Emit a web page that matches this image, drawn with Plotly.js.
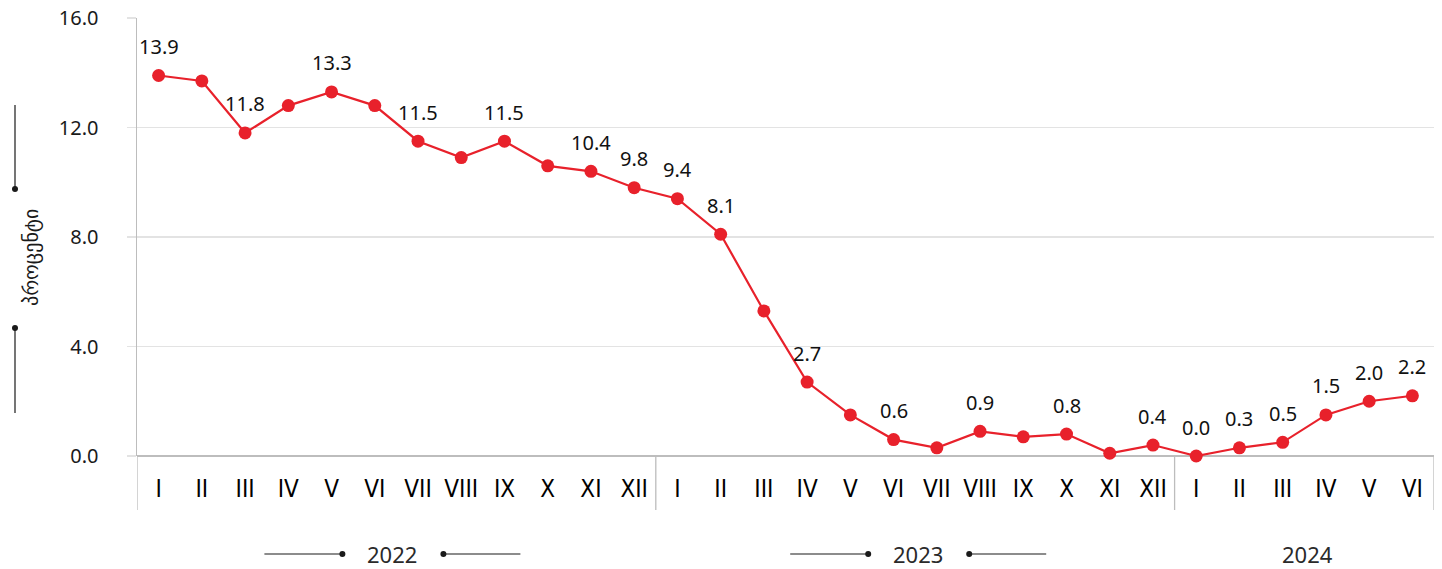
<!DOCTYPE html>
<html>
<head>
<meta charset="utf-8">
<script src="https://cdn.plot.ly/plotly-3.0.1.min.js"></script>
<style>html,body{margin:0;padding:0;background:#fff;}#chart{width:1442px;height:569px;}</style>
</head>
<body>
<div id="chart"></div>
<script>
const months = ["I","II","III","IV","V","VI","VII","VIII","IX","X","XI","XII",
                "I","II","III","IV","V","VI","VII","VIII","IX","X","XI","XII",
                "I","II","III","IV","V","VI"];
const values = [13.9,13.7,11.8,12.8,13.3,12.8,11.5,10.9,11.5,10.6,10.4,9.8,
                9.4,8.1,5.3,2.7,1.5,0.6,0.3,0.9,0.7,0.8,0.1,0.4,
                0.0,0.3,0.5,1.5,2.0,2.2];
const showLabel = [1,0,1,0,1,0,1,0,1,0,1,1,
                   1,1,0,1,0,1,0,1,0,1,0,1,
                   1,1,1,1,1,1];
const years = ["2022","2023","2024"];
const yearStart = [0,12,24];
const yearLen = [12,12,6];
const yearDecor = [true,true,false];
const yTitle = "პროცენტი";
const yTicks = [0,4,8,12,16];

const idx = months.map((m,i)=>i);
const red = "#e8212b";
const txt = "#1a1a1a";
const axisGray = "#bdbdbd";

const trace = {
  x: idx, y: values, type: "scatter", mode: "lines+markers",
  line: {color: red, width: 2.2},
  marker: {color: red, size: 13},
  hoverinfo: "skip", cliponaxis: false
};

const annotations = [];
idx.forEach(i=>{
  if (showLabel[i]) annotations.push({
    x: i, y: values[i], xref: "x", yref: "y", text: values[i].toFixed(1),
    showarrow: false, yshift: 29, font: {family: "Noto Sans", size: 20, color: "#111"}
  });
});

// plot geometry
const L = 137, R = 8, T = 18, B = 113, W = 1442, H = 569;
const pw = W - L - R, ph = H - T - B;
const px2x = px => (px - L) / pw;
const py2y = py => (H - B - py) / ph;

const shapes = [];
const seps = [-0.5];
yearStart.forEach((s,k)=>seps.push(s + yearLen[k] - 0.5));
seps.forEach(s=>{
  shapes.push({type:"line", xref:"x", yref:"paper", x0:s, x1:s, y0:0, y1:py2y(510),
    line:{color:axisGray, width:1.3}});
});

function decorH(xc, yc) {
  const y = py2y(yc);
  shapes.push({type:"line", xref:"paper", yref:"paper", x0:px2x(xc-128), x1:px2x(xc-50), y0:y, y1:y, line:{color:txt, width:1.2}});
  shapes.push({type:"line", xref:"paper", yref:"paper", x0:px2x(xc+51), x1:px2x(xc+128), y0:y, y1:y, line:{color:txt, width:1.2}});
  [xc-50, xc+51].forEach(cx=>{
    shapes.push({type:"circle", xref:"paper", yref:"paper", x0:px2x(cx-3), x1:px2x(cx+3), y0:py2y(yc+3), y1:py2y(yc-3),
      fillcolor:txt, line:{color:txt, width:0}});
  });
}

const yearShift = [-4, 3, 3];
yearStart.forEach((s,k)=>{
  const center = s + (yearLen[k]-1)/2;
  annotations.push({x:center, y:py2y(554), xref:"x", yref:"paper", text:years[k], showarrow:false,
    xshift:yearShift[k], font:{family:"Noto Sans", size:22, color:"#2a2a2a"}, yanchor:"middle"});
  if (yearDecor[k]) {
    const cpx = L + (center + 0.5) / 30 * pw + yearShift[k];
    decorH(cpx, 554);
  }
});

// y title with decor
annotations.push({x:px2x(17), y:py2y(258), xref:"paper", yref:"paper", text:yTitle, textangle:-90,
  showarrow:false, font:{family:"DejaVu Sans", size:20, color:txt}});
shapes.push({type:"line", xref:"paper", yref:"paper", x0:px2x(15), x1:px2x(15), y0:py2y(105), y1:py2y(189), line:{color:txt, width:1.2}});
shapes.push({type:"line", xref:"paper", yref:"paper", x0:px2x(15), x1:px2x(15), y0:py2y(328), y1:py2y(413), line:{color:txt, width:1.2}});
[189, 328].forEach(cy=>{
  shapes.push({type:"circle", xref:"paper", yref:"paper", x0:px2x(12), x1:px2x(18), y0:py2y(cy+3), y1:py2y(cy-3),
    fillcolor:txt, line:{color:txt, width:0}});
});

const layout = {
  width: W, height: H,
  margin: {l: L, r: R, t: T, b: B, pad: 0},
  paper_bgcolor: "#fff", plot_bgcolor: "#fff",
  showlegend: false,
  xaxis: {
    range: [-0.5, 29.5], tickvals: idx, ticktext: months, tickmode: "array",
    showgrid: false, zeroline: false, showline: false,
    ticks: "outside", ticklen: 11, tickcolor: "rgba(0,0,0,0)",
    tickfont: {family: "Liberation Sans Narrow, DejaVu Sans Condensed", size: 24, color: "#000"},
    fixedrange: true
  },
  yaxis: {
    range: [0, 16], tickvals: yTicks, ticktext: yTicks.map(v=>v.toFixed(1)),
    showgrid: true, gridcolor: "#e3e3e3", gridwidth: 1.2,
    zeroline: true, zerolinecolor: axisGray, zerolinewidth: 1.5,
    showline: true, linecolor: axisGray, linewidth: 1.5,
    ticks: "outside", ticklen: 9, tickcolor: "#e3e3e3", tickwidth: 1.2,
    ticklabelstandoff: 24,
    tickfont: {family: "Noto Sans", size: 20, color: txt},
    fixedrange: true
  },
  annotations: annotations,
  shapes: shapes
};

Plotly.newPlot("chart", [trace], layout, {displayModeBar: false, staticPlot: true});
</script>
</body>
</html>
